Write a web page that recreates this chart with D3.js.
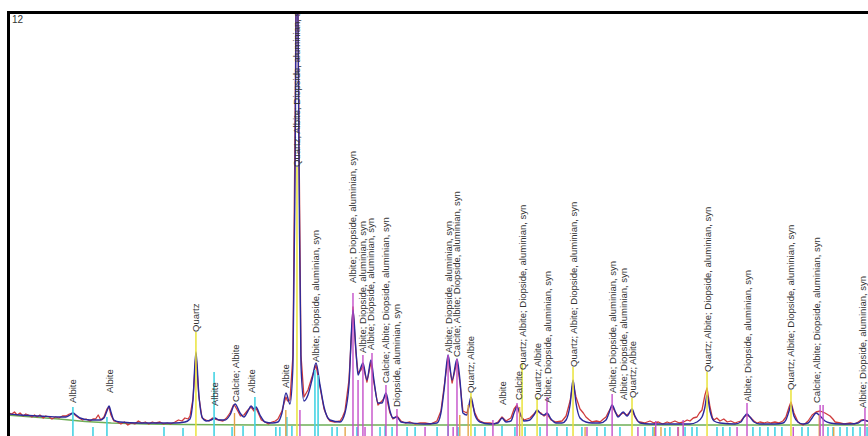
<!DOCTYPE html>
<html>
<head>
<meta charset="utf-8">
<script src="https://cdn.jsdelivr.net/npm/d3@7"></script>
<style>
  html, body { margin: 0; padding: 0; background: #fff; overflow: hidden; }
  text { font-family: "Liberation Sans", Arial, sans-serif; }
</style>
</head>
<body>
<svg id="chart" width="868" height="436"></svg>
<script>
// Scan: 2-theta (deg) vs. intensity (arbitrary units)
const observed = [
  [10.14,12],[10.30,11],[10.45,13],[10.60,10],[10.77,12],[10.95,9],[11.10,11],[11.25,10],[11.45,8],[11.60,10],
  [11.75,8],[11.91,10],[12.10,7],[12.25,9],[12.45,8],[12.60,6],[12.80,8],[13.00,7],[13.20,9],[13.40,9],
  [13.60,11],[13.80,12],[13.98,9],[14.15,7],[14.35,5],[14.55,6],[14.78,4],[14.95,6],[15.10,6],[15.25,10],
  [15.40,5],[15.58,8],[15.75,16],[15.87,18],[15.98,10],[16.15,4],[16.35,3],[16.55,1],[16.75,3],[16.95,0],
  [17.15,2],[17.35,1],[17.55,4],[17.75,2],[17.95,3],[18.15,1],[18.35,3],[18.55,2],[18.79,3],[19.00,1],
  [19.20,2],[19.40,1],[19.65,3],[19.85,5],[20.05,4],[20.22,7],[20.40,6],[20.51,9],[20.68,26],[20.85,71],
  [21.02,28],[21.20,7],[21.43,5],[21.60,4],[21.80,7],[21.94,6],[22.17,5],[22.40,4],[22.60,7],[22.80,12],
  [23.00,20],[23.09,19],[23.25,14],[23.40,9],[23.60,10],[23.83,15],[24.01,18],[24.18,14],[24.29,17],[24.45,11],
  [24.60,5],[24.81,3],[25.00,1],[25.21,3],[25.40,4],[25.55,6],[25.78,14],[25.90,22],[26.01,28],[26.10,24],
  [26.24,25],[26.41,70],[26.53,300],[26.64,540],[26.76,280],[26.87,70],[27.04,28],[27.27,35],[27.50,48],[27.73,60],
  [27.96,38],[28.19,16],[28.40,7],[28.53,4],[28.80,3],[29.11,4],[29.25,8],[29.39,14],[29.62,45],[29.85,118],
  [30.02,72],[30.14,52],[30.31,55],[30.42,60],[30.65,43],[30.88,63],[31.05,42],[31.28,20],[31.51,24],[31.74,30],
  [31.97,12],[32.14,6],[32.37,9],[32.60,4],[32.85,2],[33.12,3],[33.40,1],[33.70,2],[33.98,2],[34.30,1],
  [34.66,4],[34.89,14],[35.07,38],[35.30,68],[35.53,42],[35.81,64],[35.98,42],[36.15,14],[36.38,12],[36.61,26],
  [36.84,12],[37.00,6],[37.13,4],[37.40,2],[37.70,2],[37.95,1],[38.16,3],[38.39,8],[38.62,4],[38.90,7],
  [39.08,16],[39.25,20],[39.42,10],[39.65,5],[39.99,7],[40.22,11],[40.40,14],[40.62,12],[40.80,9],[40.97,11],
  [41.20,5],[41.49,3],[41.83,4],[42.06,9],[42.29,24],[42.46,42],[42.63,28],[42.86,16],[43.05,12],[43.20,8],
  [43.40,5],[43.55,3],[43.80,4],[44.01,3],[44.20,6],[44.35,8],[44.52,14],[44.70,19],[44.87,13],[45.04,9],
  [45.33,12],[45.56,10],[45.84,15],[46.01,8],[46.15,4],[46.30,3],[46.55,2],[46.87,4],[47.10,2],[47.35,3],
  [47.60,1],[47.85,3],[48.02,2],[48.30,4],[48.55,2],[48.80,3],[49.00,5],[49.16,4],[49.35,7],[49.56,8],
  [49.70,12],[49.85,15],[50.02,30],[50.14,37],[50.31,18],[50.45,7],[50.54,5],[50.70,7],[50.88,4],[51.10,6],
  [51.30,3],[51.50,4],[51.74,2],[51.90,3],[52.08,4],[52.26,8],[52.43,10],[52.60,8],[52.83,4],[53.00,2],
  [53.17,3],[53.40,2],[53.60,3],[53.80,2],[54.03,3],[54.25,2],[54.49,4],[54.66,8],[54.84,18],[54.95,23],
  [55.12,12],[55.35,3],[55.50,1],[55.64,0],[55.80,2],[55.93,4],[56.16,10],[56.39,13],[56.62,14],[56.90,12],
  [57.19,9],[57.35,6],[57.48,3],[57.77,2],[58.00,1],[58.34,2],[58.60,1],[58.80,3],[58.97,5],[59.14,5],
  [59.31,4],[59.49,3]
];

const calculated = [
  [10.14,11],[10.77,10],[11.91,9],[13.06,8],[13.40,8],[13.63,10],[13.80,12],[13.98,10],[14.21,7],[14.78,5],
  [15.35,5],[15.58,7],[15.75,14],[15.87,19],[15.98,13],[16.15,5],[16.50,3],[17.64,2],[18.79,2],[19.65,2],
  [20.22,3],[20.51,6],[20.68,25],[20.85,73],[21.02,30],[21.20,8],[21.43,4],[21.71,5],[21.94,7],[22.17,5],
  [22.52,5],[22.80,10],[23.09,21],[23.38,12],[23.60,8],[23.83,14],[24.01,19],[24.18,16],[24.29,18],[24.52,10],
  [24.81,3],[25.21,2],[25.55,3],[25.78,12],[26.01,32],[26.24,21],[26.41,60],[26.53,250],[26.64,520],[26.76,250],
  [26.87,60],[27.04,24],[27.27,30],[27.50,45],[27.73,62],[27.96,40],[28.19,18],[28.53,5],[29.11,3],[29.39,12],
  [29.62,40],[29.85,115],[30.02,75],[30.14,50],[30.31,58],[30.42,62],[30.65,45],[30.88,65],[31.05,45],[31.28,22],
  [31.51,22],[31.74,32],[31.97,14],[32.14,7],[32.37,8],[32.60,3],[33.12,2],[33.98,1],[34.66,2],[34.89,12],
  [35.07,35],[35.30,70],[35.53,45],[35.81,66],[35.98,45],[36.15,12],[36.38,10],[36.61,28],[36.84,10],[37.13,3],
  [37.70,1],[38.16,2],[38.39,7],[38.62,3],[38.90,4],[39.08,12],[39.25,18],[39.42,12],[39.65,4],[39.99,5],
  [40.22,10],[40.40,15],[40.62,11],[40.80,10],[40.97,12],[41.20,6],[41.49,2],[41.83,2],[42.06,5],[42.29,20],
  [42.46,45],[42.63,22],[42.86,7],[43.20,3],[43.55,2],[44.01,2],[44.35,5],[44.52,12],[44.70,20],[44.87,14],
  [45.04,8],[45.33,13],[45.56,9],[45.84,16],[46.01,9],[46.30,2],[46.87,1],[48.02,1],[49.16,1],[49.56,3],
  [49.85,8],[50.02,18],[50.14,30],[50.31,14],[50.54,4],[50.88,2],[51.74,1],[52.08,3],[52.26,8],[52.43,11],
  [52.60,8],[52.83,3],[53.17,1],[54.03,1],[54.49,2],[54.66,5],[54.84,14],[54.95,20],[55.12,9],[55.35,3],
  [55.64,1],[55.93,2],[56.16,7],[56.39,12],[56.62,9],[56.90,4],[57.19,2],[57.77,1],[58.34,1],[58.80,2],
  [58.97,4],[59.14,5],[59.31,4],[59.49,3]
];

const background = [
  [10.14,10],[11.50,8],[13.00,6],[14.50,3.5],[16.00,2],[18.00,1],[20.00,0.5],[25.00,0],[60.00,0]
];

// Reference pattern sticks: [2-theta, top intensity]
const quartzSticks = [
  [20.85,93],[26.64,258],[36.61,32],[39.54,62],[40.40,28],[42.46,58],[45.84,27],[50.14,53],[54.95,35]
];
const albiteSticks = [
  [13.80,18],[14.95,-2],[15.75,8],[19.02,-2],[20.11,-3],[21.89,53],[22.92,-2],[23.55,-1],[24.23,28],[25.43,-2],
  [25.66,-2],[26.06,8],[26.35,-1],[27.67,55],[27.85,50],[28.65,-2],[28.94,-2],[30.08,-2],[31.40,-2],[31.69,-1],
  [32.09,-2],[32.95,-2],[33.41,-2],[34.67,-2],[35.30,-1],[35.87,-2],[36.84,-2],[37.41,-2],[38.39,-1],[39.13,-2],
  [39.71,-2],[40.57,-2],[41.54,-2],[42.11,-2],[42.97,-2],[43.83,-2],[44.29,-2],[45.15,-2],[46.58,-2],[47.04,-2],
  [47.73,-3],[48.01,-2],[48.88,-2],[49.28,-2],[49.56,-2],[50.71,-2],[51.05,-2],[51.45,-2],[52.77,-2],[53.17,-2],
  [53.63,-2],[54.03,-2],[54.43,-2],[55.58,-2],[55.93,-2],[57.07,-2],[57.36,-2],[57.76,-2],[58.16,-2],[58.50,-2],
  [58.91,-2],[59.31,-2]
];
const diopsideSticks = [
  [26.81,15],[29.85,132],[30.14,45],[30.42,70],[30.54,-2],[30.94,72],[31.74,40],[32.37,16],[33.98,-2],[35.30,70],
  [35.59,-2],[35.81,66],[37.87,5],[39.25,22],[40.97,28],[43.26,-2],[44.70,31],[46.18,-2],[47.20,4],[48.47,-2],
  [48.77,5],[51.86,-2],[52.43,22],[55.08,-2],[56.62,20],[56.79,20],[59.19,17]
];
const calciteSticks = [
  [23.06,12],[26.00,15],[29.40,-2],[35.97,10],[36.45,20],[39.40,18],[43.15,-2],[47.12,-2],[47.50,-2],[48.50,-2],
  [56.57,10],[57.40,-2]
];

// Peak labels: [2-theta, label level, text]
const peakLabels = [
  [13.80,22,"Albite"],
  [15.87,32,"Albite"],
  [20.85,93,"Quartz"],
  [21.94,19,"Albite"],
  [23.09,23,"Calcite; Albite"],
  [24.01,32,"Albite"],
  [26.01,37,"Albite"],
  [26.64,258,"Quartz; Albite; Diopside, aluminian, syn"],
  [27.73,63,"Albite; Diopside, aluminian, syn"],
  [29.85,142,"Albite; Diopside, aluminian, syn"],
  [30.42,72,"Albite; Diopside, aluminian, syn"],
  [30.88,75,"Albite; Diopside, aluminian, syn"],
  [31.74,42,"Calcite; Albite; Diopside, aluminian, syn"],
  [32.37,18,"Diopside, aluminian, syn"],
  [35.30,72,"Albite; Diopside, aluminian, syn"],
  [35.81,68,"Calcite; Albite; Diopside, aluminian, syn"],
  [36.61,32,"Quartz; Albite"],
  [38.39,20,"Albite"],
  [39.31,25,"Calcite"],
  [39.54,55,"Quartz; Albite; Diopside, aluminian, syn"],
  [40.40,25,"Quartz; Albite"],
  [40.97,22,"Albite; Diopside, aluminian, syn"],
  [42.46,58,"Quartz; Albite; Diopside, aluminian, syn"],
  [44.70,32,"Albite; Diopside, aluminian, syn"],
  [45.33,25,"Albite; Diopside, aluminian, syn"],
  [45.84,27,"Quartz; Albite"],
  [50.14,53,"Quartz; Albite; Diopside, aluminian, syn"],
  [52.43,23,"Albite; Diopside, aluminian, syn"],
  [54.95,35,"Quartz; Albite; Diopside, aluminian, syn"],
  [56.39,22,"Calcite; Albite; Diopside, aluminian, syn"],
  [59.07,17,"Albite; Diopside, aluminian, syn"]
];

const cornerLabel = "12";
const xDomain = [10, 60];
const yDomain = [0, 412];

// ---------------------------------------------------------------
const svg = d3.select("#chart");
const x = d3.scaleLinear().domain(xDomain).range([6.6, 879.1]);
const y = d3.scaleLinear().domain(yDomain).range([425, 13]);

svg.append("rect").attr("width", 868).attr("height", 436).attr("fill", "#fff");

svg.append("defs").append("clipPath").attr("id", "plotClip")
  .append("rect").attr("x", 10).attr("y", 14).attr("width", 870).attr("height", 430);

const plot = svg.append("g").attr("clip-path", "url(#plotClip)");

const line = d3.line().x(d => x(d[0])).y(d => y(d[1]));

// background
plot.append("path").datum(background)
  .attr("d", line).attr("fill", "none")
  .attr("stroke", "#6fae57").attr("stroke-width", 1.6);

// observed scan
plot.append("path").datum(observed)
  .attr("d", line).attr("fill", "none")
  .attr("stroke", "#cf3b3b").attr("stroke-width", 1.3)
  .attr("stroke-linejoin", "round");

// calculated profile
plot.append("path").datum(calculated)
  .attr("d", line.curve(d3.curveMonotoneX)).attr("fill", "none")
  .attr("stroke", "#2c2a9c").attr("stroke-width", 1.4)
  .attr("stroke-linejoin", "round");

// reference sticks
const stickBottom = y(-30);
function drawSticks(data, color, width) {
  plot.append("g").selectAll("line").data(data).join("line")
    .attr("x1", d => x(d[0])).attr("x2", d => x(d[0]))
    .attr("y1", stickBottom).attr("y2", d => y(d[1]))
    .attr("stroke", color).attr("stroke-width", width);
}
drawSticks(albiteSticks, "#45d3e3", 1.6);
drawSticks(calciteSticks, "#e4a548", 1.4);
drawSticks(diopsideSticks, "#c44fc9", 1.4);
drawSticks(quartzSticks, "#e9e33a", 1.5);

// peak labels
plot.append("g").selectAll("text").data(peakLabels).join("text")
  .attr("transform", d => `translate(${x(d[0]) + 3.5},${y(d[1])}) rotate(-90)`)
  .attr("font-size", 9.5)
  .attr("fill", "#333")
  .text(d => d[2]);

// frame
svg.append("rect")
  .attr("x", 8.5).attr("y", 12.5).attr("width", 900).attr("height", 500)
  .attr("fill", "none").attr("stroke", "#000").attr("stroke-width", 3);

svg.append("text")
  .attr("x", 12).attr("y", 23)
  .attr("font-size", 10).attr("fill", "#333")
  .text(cornerLabel);
</script>
</body>
</html>
